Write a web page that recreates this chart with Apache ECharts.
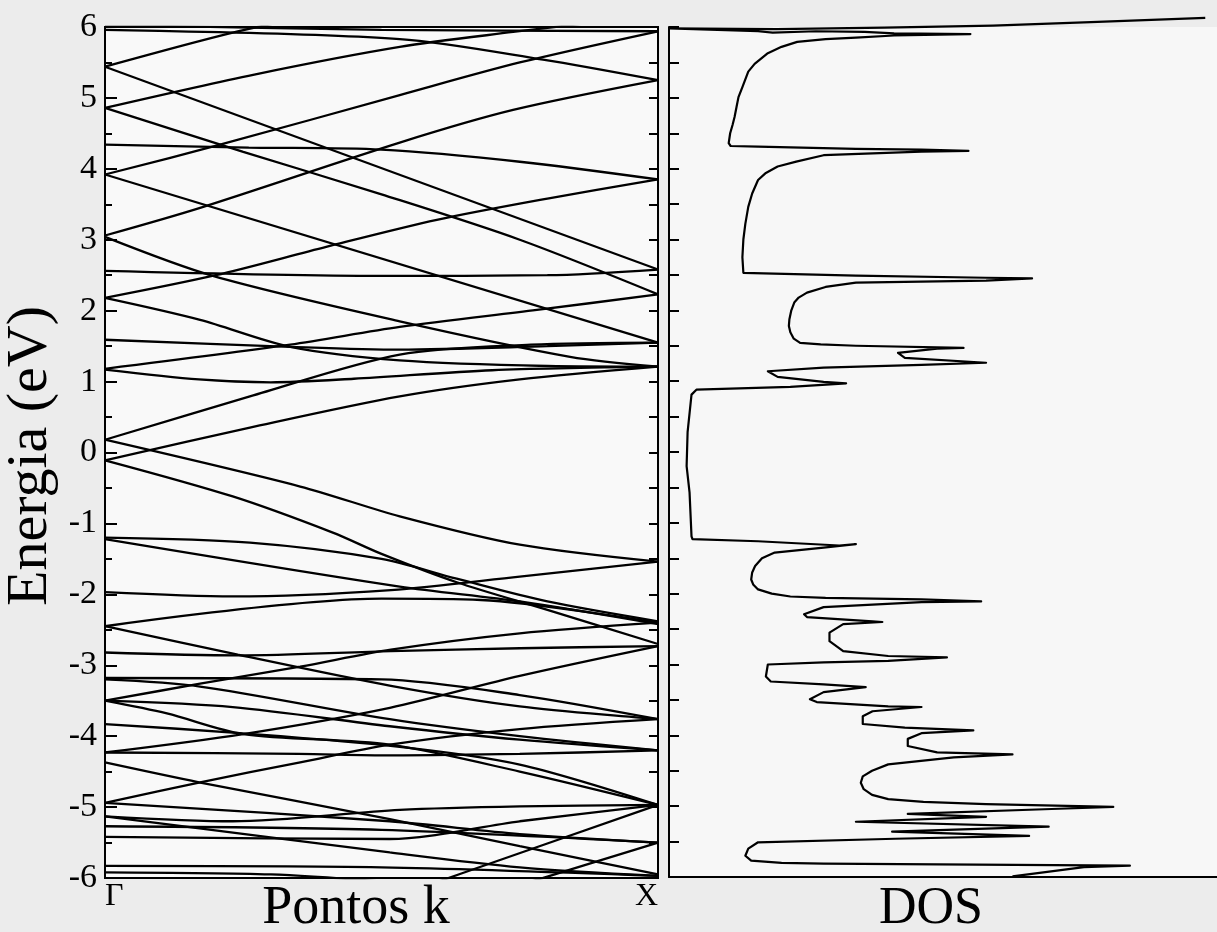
<!DOCTYPE html>
<html>
<head>
<meta charset="utf-8">
<script src="https://cdn.jsdelivr.net/npm/echarts@6/dist/echarts.min.js"></script>
<style>
  html, body { margin: 0; padding: 0; background: #ececec; }
  #chart { width: 1217px; height: 932px; }
</style>
</head>
<body>
<div id="chart"></div>
<script>
// Energy scale (eV) shared by both panels
const energyTicks = [-6, -5, -4, -3, -2, -1, 0, 1, 2, 3, 4, 5, 6];
// High-symmetry points along the k path
const kPointLabels = ['Γ', 'X'];

// Band structure, Γ (k = 0) to X (k = 1): each band is a list of [k, E] points
const bandsUpper = [
  [[0, 6.03], [0.5, 5.96], [1, 5.94]],
  [[0, 5.96], [0.533, 5.83], [0.792, 5.54], [1, 5.25]],
  [[0, 5.44], [0.231, 5.92], [0.4, 6.2]],
  [[0, 5.44], [1, 2.58]],
  [[0, 4.86], [0.25, 4.24], [0.5, 3.64], [0.75, 3.0], [1, 2.23]],
  [[0, 4.34], [0.26, 4.30], [0.5, 4.27], [0.75, 4.1], [1, 3.85]],
  [[0, 4.86], [0.27, 5.33], [0.533, 5.72], [0.738, 5.93], [0.9, 6.08]],
  [[0, 3.92], [0.208, 4.34], [0.533, 5.04], [0.75, 5.5], [1, 5.94]],
  [[0, 2.56], [0.5, 2.49], [0.8, 2.5], [1, 2.58]],
  [[0, 3.92], [1, 1.55]],
  [[0, 3.06], [0.172, 3.45], [0.533, 4.37], [0.738, 4.83], [1, 5.25]],
  [[0, 3.04], [0.195, 2.49], [0.533, 1.85], [0.841, 1.35], [1, 1.21]],
  [[0, 2.18], [0.2, 2.5], [0.4, 2.9], [0.6, 3.28], [0.8, 3.58], [1, 3.85]],
  [[0, 1.18], [0.335, 1.52], [0.533, 1.77], [0.781, 2.01], [1, 2.23]],
  [[0, 1.17], [0.17, 1.03], [0.3, 0.99], [0.45, 1.04], [0.7, 1.16], [1, 1.21]],
  [[0, 0.18], [0.262, 0.79], [0.533, 1.38], [0.77, 1.52], [1, 1.55]],
  [[0, -0.11], [0.262, 0.35], [0.533, 0.79], [0.75, 1.03], [1, 1.21]],
  [[0, 2.18], [0.172, 1.87], [0.335, 1.49], [0.533, 1.3], [0.8, 1.22], [1, 1.21]],
  [[0, 1.59], [0.335, 1.49], [0.533, 1.45], [0.8, 1.5], [1, 1.55]]
];

const bandsLower = [
  [[0, 0.18], [0.353, -0.48], [0.533, -0.9], [0.75, -1.3], [1, -1.54]],
  [[0, -0.11], [0.231, -0.62], [0.412, -1.13], [0.5, -1.43], [0.636, -1.83], [0.8, -2.22], [1, -2.7]],
  [[0, -1.2], [0.262, -1.27], [0.5, -1.5], [0.636, -1.78], [0.8, -2.1], [1, -2.38]],
  [[0, -1.22], [0.533, -1.89], [0.75, -2.1], [1, -2.42]],
  [[0, -1.97], [0.231, -2.03], [0.517, -1.94], [0.75, -1.75], [1, -1.54]],
  [[0, -2.45], [0.5, -2.06], [0.68, -2.08], [1, -2.4]],
  [[0, -2.45], [0.24, -2.85], [0.517, -3.29], [0.75, -3.58], [1, -3.76]],
  [[0, -2.82], [0.24, -2.86], [0.517, -2.8], [0.75, -2.76], [1, -2.73]],
  [[0, -3.5], [0.172, -3.26], [0.353, -3.02], [0.517, -2.78], [0.75, -2.55], [1, -2.4]],
  [[0, -3.18], [0.5, -3.2], [0.75, -3.42], [1, -3.76]],
  [[0, -3.2], [0.172, -3.3], [0.515, -3.76], [0.75, -4.0], [1, -4.2]],
  [[0, -3.5], [0.231, -3.59], [0.515, -3.86], [0.75, -4.05], [1, -4.2]],
  [[0, -3.5], [0.112, -3.68], [0.25, -3.97], [0.515, -4.12], [0.75, -4.5], [1, -4.97]],
  [[0, -3.83], [0.231, -3.95], [0.533, -4.15], [0.75, -4.4], [1, -4.97]],
  [[0, -4.23], [0.25, -3.97], [0.515, -3.6], [0.75, -3.15], [1, -2.73]],
  [[0, -4.23], [0.35, -4.25], [0.515, -4.27], [0.75, -4.25], [1, -4.2]],
  [[0, -4.37], [0.17, -4.65], [0.515, -5.17], [0.75, -5.55], [1, -5.95]],
  [[0, -4.94], [0.172, -4.65], [0.353, -4.37], [0.515, -4.12], [0.75, -3.9], [1, -3.76]],
  [[0, -4.94], [0.515, -5.2], [0.75, -5.38], [1, -5.5]],
  [[0, -5.13], [0.231, -5.2], [0.533, -5.04], [0.75, -4.99], [1, -4.97]],
  [[0, -5.13], [0.515, -5.64], [0.75, -5.85], [1, -5.97]],
  [[0, -5.27], [0.5, -5.32], [1, -5.5]],
  [[0, -5.42], [0.515, -5.45], [0.75, -5.2], [1, -4.97]],
  [[0, -5.83], [0.5, -5.85], [1, -5.97]],
  [[0, -5.92], [0.3, -5.95], [0.5, -6.05]],
  [[0, -7.7], [0.647, -5.93], [1, -4.97]],
  [[0, -7.9], [0.8, -5.98], [1, -5.5]]
];

// Density of states: traced as one continuous curve, states (arb. units) vs energy (eV)
const dosStates = [
  10.96, 8.62, 6.62, 4.4, 2.2, 0,
  1.82, 2.12, 3.0, 4.0, 4.6, 6.16,
  4.6, 3.82, 3.2, 2.62, 2.3, 2.02, 1.75, 1.62, 1.5, 1.42, 1.38, 1.34, 1.3, 1.25, 1.22,
  1.26, 1.82, 3.82, 5.16, 6.12,
  5.16, 3.16, 2.6, 2.22, 1.98, 1.82, 1.7, 1.62, 1.56, 1.52, 1.5, 1.52,
  1.56, 3.82, 6.48, 7.42,
  6.48, 3.82, 3.2, 2.82, 2.65, 2.56, 2.5, 2.46, 2.45, 2.48, 2.55, 2.68, 3.1, 3.82, 6.02,
  5.48, 4.68, 4.82, 6.48,
  5.16, 3.16, 2.02, 2.22, 3.16, 3.62,
  2.48, 0.56, 0.46, 0.38, 0.36, 0.42, 0.46, 0.48,
  1.82, 3.48, 3.82,
  3.16, 2.16, 1.9, 1.76, 1.7, 1.68, 1.72, 1.82, 2.1, 2.48, 3.2, 5.16, 6.38,
  5.16, 3.16, 2.76, 2.82, 4.16, 4.36,
  3.56, 3.28, 3.28, 3.56, 4.48, 5.68,
  4.48, 3.16, 2.02, 1.98, 2.08, 3.16, 4.02,
  3.16, 2.88, 3.02, 4.48, 5.16,
  4.16, 3.96, 3.96, 4.82, 6.22,
  5.16, 4.88, 4.88, 5.48, 7.02,
  5.82, 4.48, 4.15, 3.96, 3.92, 3.98, 4.15, 4.48, 5.2, 6.48, 9.08,
  7.82, 4.88, 6.48, 3.82, 7.76, 4.56, 7.36, 4.62,
  1.82, 1.62, 1.56, 1.68, 2.3, 3.16, 9.42,
  8.48, 7.02
];
const dosEnergies = [
  6.13, 6.07, 6.02, 5.99, 5.97, 5.98,
  5.94, 5.92, 5.94, 5.93, 5.91, 5.90,
  5.88, 5.85, 5.83, 5.79, 5.72, 5.63, 5.48, 5.37, 5.15, 5.01, 4.87, 4.73, 4.62, 4.5, 4.36,
  4.32, 4.31, 4.28, 4.27, 4.25,
  4.24, 4.19, 4.1, 4.03, 3.94, 3.84, 3.65, 3.46, 3.22, 3.0, 2.75, 2.53,
  2.52, 2.49, 2.46, 2.45,
  2.42, 2.39, 2.33, 2.25, 2.18, 2.11, 2.0, 1.87, 1.78, 1.69, 1.6, 1.54, 1.52, 1.50, 1.47,
  1.46, 1.40, 1.33, 1.26,
  1.23, 1.19, 1.14, 1.06, 0.99, 0.97,
  0.92, 0.88, 0.81, 0.28, -0.2, -0.57, -1.19, -1.23,
  -1.26, -1.32, -1.30,
  -1.35, -1.42, -1.5, -1.61, -1.7, -1.80, -1.87, -1.94, -2.0, -2.04, -2.06, -2.08, -2.11,
  -2.12, -2.19, -2.29, -2.33, -2.39, -2.40,
  -2.43, -2.55, -2.67, -2.81, -2.88, -2.90,
  -2.95, -2.97, -3.0, -3.17, -3.24, -3.28, -3.32,
  -3.39, -3.49, -3.53, -3.59, -3.60,
  -3.66, -3.73, -3.84, -3.89, -3.93,
  -3.97, -4.05, -4.15, -4.24, -4.27,
  -4.31, -4.41, -4.5, -4.58, -4.67, -4.76, -4.84, -4.90, -4.94, -4.97, -5.01,
  -5.04, -5.11, -5.15, -5.22, -5.29, -5.36, -5.42, -5.46,
  -5.51, -5.6, -5.70, -5.77, -5.8, -5.81, -5.84,
  -5.86, -5.99
];

const SERIF = '"Liberation Serif", "DejaVu Serif", serif';
const INK = '#000';

const chart = echarts.init(document.getElementById('chart'), null, { renderer: 'canvas' });

const bandSeries = bandsUpper.concat(bandsLower).map(function (band) {
  return {
    type: 'line',
    xAxisIndex: 0,
    yAxisIndex: 0,
    data: band,
    showSymbol: false,
    smooth: 0.3,
    clip: true,
    silent: true,
    lineStyle: { color: INK, width: 2.3 }
  };
});

const dosSeries = {
  type: 'line',
  xAxisIndex: 1,
  yAxisIndex: 2,
  data: dosStates.map(function (d, i) { return [d, dosEnergies[i]]; }),
  showSymbol: false,
  smooth: false,
  clip: false,
  silent: true,
  lineStyle: { color: INK, width: 2.2, join: 'round' }
};

const eMin = energyTicks[0];
const eMax = energyTicks[energyTicks.length - 1];

chart.setOption({
  backgroundColor: '#ececec',
  animation: false,
  grid: [
    { left: 105, top: 27, width: 553, height: 851, show: true,
      backgroundColor: '#f9f9f9', borderColor: INK, borderWidth: 2 },
    { left: 669, top: 27, width: 560, height: 850, show: true,
      backgroundColor: '#f7f7f7', borderWidth: 0 }
  ],
  xAxis: [
    { gridIndex: 0, type: 'value', min: 0, max: 1, interval: 1,
      axisLine: { show: true, onZero: false, lineStyle: { color: INK, width: 2 } },
      axisTick: { show: false },
      splitLine: { show: false },
      axisLabel: {
        show: true, margin: 3, color: INK, fontFamily: SERIF, fontSize: 32,
        alignMinLabel: 'left', alignMaxLabel: 'right',
        formatter: function (v) { return v === 0 ? kPointLabels[0] : (v === 1 ? kPointLabels[1] : ''); }
      } },
    { gridIndex: 1, type: 'value', min: 0, max: 11.2,
      axisLine: { show: true, onZero: false, lineStyle: { color: INK, width: 2 } },
      axisTick: { show: false }, axisLabel: { show: false }, splitLine: { show: false } }
  ],
  yAxis: [
    { gridIndex: 0, type: 'value', position: 'left', min: eMin, max: eMax, interval: 1,
      axisLine: { show: true, onZero: false, lineStyle: { color: INK, width: 2 } },
      axisTick: { show: true, inside: true, length: 12, lineStyle: { color: INK, width: 2 } },
      minorTick: { show: true, splitNumber: 2, length: 7, lineStyle: { color: INK, width: 2 } },
      splitLine: { show: false },
      axisLabel: { show: true, margin: 8, color: INK, fontFamily: SERIF, fontSize: 34 } },
    { gridIndex: 0, type: 'value', position: 'right', min: eMin, max: eMax, interval: 0.5,
      axisLine: { show: true, onZero: false, lineStyle: { color: INK, width: 2 } },
      axisTick: { show: true, inside: true, length: 9, lineStyle: { color: INK, width: 2 } },
      splitLine: { show: false }, axisLabel: { show: false } },
    { gridIndex: 1, type: 'value', position: 'left', min: eMin, max: eMax, interval: 0.5,
      axisLine: { show: true, onZero: false, lineStyle: { color: INK, width: 2 } },
      axisTick: { show: true, inside: true, length: 10, lineStyle: { color: INK, width: 2 } },
      splitLine: { show: false }, axisLabel: { show: false } }
  ],
  graphic: [
    { type: 'text', x: 31, y: 456, rotation: Math.PI / 2,
      style: { text: 'Energia (eV)', fill: INK, font: '58px ' + SERIF,
               textAlign: 'center', textVerticalAlign: 'middle' } },
    { type: 'text', x: 356, y: 909,
      style: { text: 'Pontos k', fill: INK, font: '54px ' + SERIF,
               textAlign: 'center', textVerticalAlign: 'middle' } },
    { type: 'text', x: 931, y: 909,
      style: { text: 'DOS', fill: INK, font: '52px ' + SERIF,
               textAlign: 'center', textVerticalAlign: 'middle' } }
  ],
  series: bandSeries.concat([dosSeries])
});
</script>
</body>
</html>
